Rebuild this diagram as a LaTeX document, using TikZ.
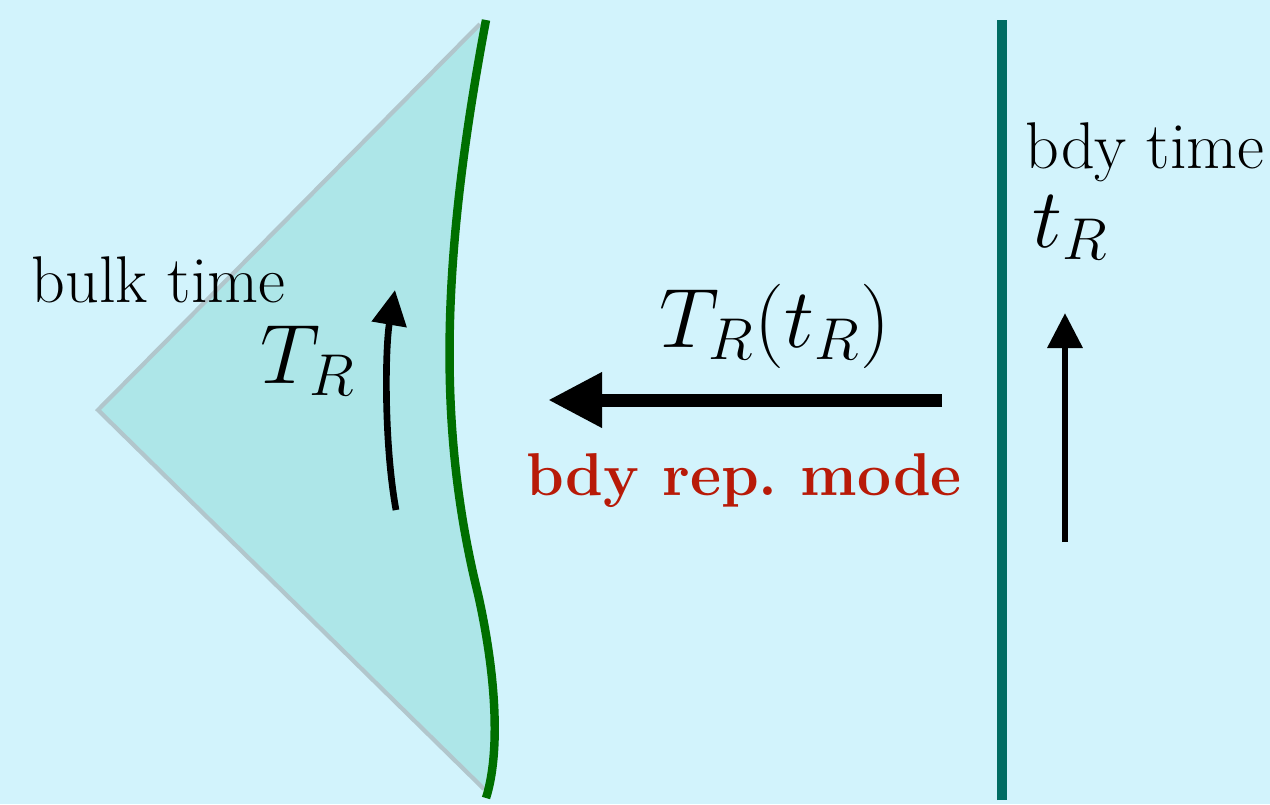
\documentclass[tikz,border=0pt]{standalone}
\usepackage{fix-cm}
\usepackage{tikz}
\usetikzlibrary{arrows.meta, positioning}

\definecolor{bgsky}{HTML}{D2F3FC}
\definecolor{wedgefill}{HTML}{ADE6E8}
\definecolor{wedgeedge}{HTML}{B1C6CC}
\definecolor{bdrygreen}{HTML}{006F00}
\definecolor{bdyteal}{HTML}{006C63}
\definecolor{modered}{HTML}{B81A08}

\begin{document}
\begin{tikzpicture}[
    txt/.style={font=\fontsize{18.8}{22}\selectfont, inner sep=0pt},
    mth/.style={font=\fontsize{24}{28}\selectfont, inner sep=0pt},
    redtxt/.style={font=\fontsize{17.2}{22}\bfseries, text=modered, inner sep=0pt},
    bigar/.style={-{Triangle[length=5.4mm, width=5.2mm]}, line width=3.7pt},
    ar/.style={-{Triangle[length=3.5mm, width=3.4mm]}, line width=1.9pt}
]
% canvas
\useasboundingbox (0,0) rectangle (12.7,8.04);
\fill[bgsky] (0,0) rectangle (12.7,8.04);

% bulk wedge
\fill[wedgefill] (4.86,7.84) .. controls (4.42,5.50) and (4.36,3.80) .. (4.78,2.10)
    .. controls (4.97,1.25) and (5.00,0.50) .. (4.86,0.06)
    -- (4.84,0.15) -- (0.98,3.94) -- (4.80,7.80) -- cycle;
\draw[wedgeedge, line width=1.2pt] (4.80,7.80) -- (0.98,3.94) -- (4.84,0.15);
\draw[bdrygreen, line width=2.4pt] (4.86,7.84) .. controls (4.42,5.50) and (4.36,3.80) .. (4.78,2.10)
    .. controls (4.97,1.25) and (5.00,0.50) .. (4.86,0.06);

% boundary
\coordinate (bdytop) at (10.02,7.84);
\coordinate (bdybot) at (10.02,0.04);
\draw[bdyteal, line width=2.6pt] (bdybot) -- (bdytop);

% labels
\node[txt, anchor=base west] (bulk) at (0.31,5.02) {bulk time};
\node[mth, anchor=base west] (bulkT) at (2.60,4.21) {$T_R$};
\node[txt, anchor=base west] (bdy) at (10.25,6.36) {bdy time};
\node[mth, anchor=base west] (bdyt) at (10.32,5.57) {$t_R$};
\node[mth, anchor=base] (map) at (7.75,4.57) {$T_R(t_R)$};
\node[redtxt, anchor=base] (mode) at (7.44,3.09) {bdy rep.\ mode};

% arrows
\coordinate (mapS) at (9.42,4.04);
\coordinate (mapE) at (5.48,4.04);
\draw[bigar] (mapS) -- (mapE);

\coordinate (bulkS) at (3.96,2.94);
\coordinate (bulkE) at (3.95,5.14);
\draw[ar] (bulkS) .. controls (3.84,3.60) and (3.85,4.55) .. (bulkE);

\coordinate (bdyS) at (10.65,2.62);
\coordinate (bdyE) at (10.65,4.91);
\draw[ar] (bdyS) -- (bdyE);
\end{tikzpicture}
\end{document}
